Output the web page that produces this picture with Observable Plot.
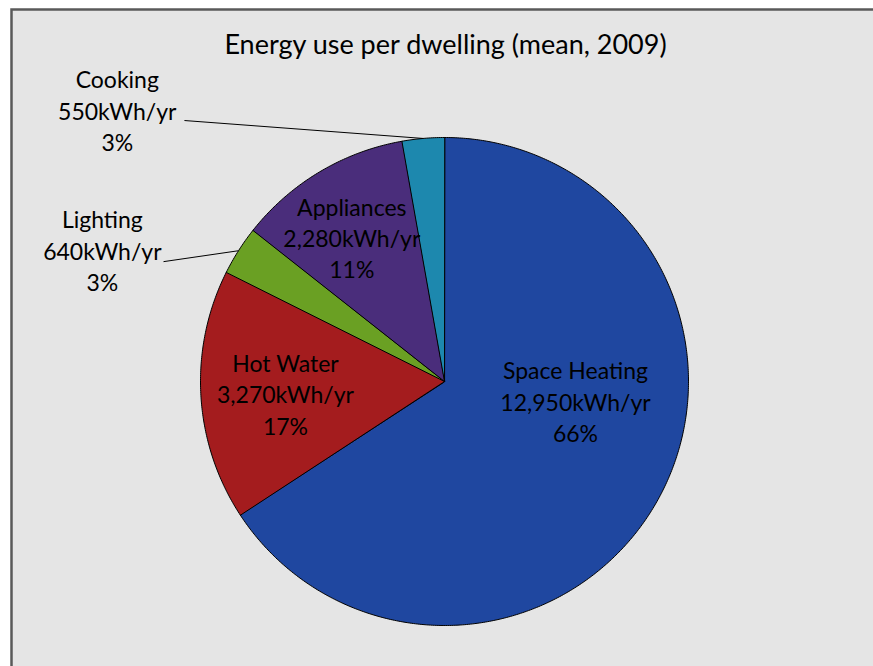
<!DOCTYPE html>
<html>
<head>
<meta charset="utf-8">
<script src="https://cdn.jsdelivr.net/npm/d3@7"></script>
<script src="https://cdn.jsdelivr.net/npm/@observablehq/plot@0.6"></script>
<style>
  body { margin: 0; background: #ffffff; }
  #chart svg { display: block; }
</style>
</head>
<body>
<div id="chart"></div>
<script>
// ---- data ----
const categories = ["Space Heating", "Hot Water", "Lighting", "Appliances", "Cooking"];
const values = [12950, 3270, 640, 2280, 550];
const valueLabels = ["12,950kWh/yr", "3,270kWh/yr", "640kWh/yr", "2,280kWh/yr", "550kWh/yr"];
const percentLabels = ["66%", "17%", "3%", "11%", "3%"];
const colors = ["#1f47a0", "#a41c1e", "#6aa023", "#4a2d7b", "#1d88ae"];
const title = "Energy use per dwelling (mean, 2009)";

// ---- label layout (polar: angle in degrees clockwise from top, radius as fraction of pie radius) ----
const labelAngle = [100, 264.3, 290.5, 326.6, 309.3];
const labelRadius = [0.545, 0.655, 1.497, 0.69, 1.733];
const leaderStart = [null, null, {a: 293.1, r: 1.252}, null, {a: 315.1, r: 1.51}];

// ---- geometry ----
const W = 873, H = 666, cx = 444, cy = 381, R = 244;
const total = d3.sum(values);
let acc = 0;
const slices = categories.map((name, i) => {
  const a0 = acc / total * 2 * Math.PI;
  acc += values[i];
  const a1 = acc / total * 2 * Math.PI;
  return {name, i, a0, a1, mid: (a0 + a1) / 2};
});
const pt = (a, r) => ({x: r * Math.sin(a), y: r * Math.cos(a)});
const polys = [];
for (const s of slices) {
  polys.push({name: s.name, ...pt(0, 0)});
  const n = Math.max(2, Math.ceil((s.a1 - s.a0) / (Math.PI / 360)));
  for (let k = 0; k <= n; k++) {
    const a = s.a0 + (s.a1 - s.a0) * k / n;
    polys.push({name: s.name, ...pt(a, 1)});
  }
}
const deg = Math.PI / 180;
const labels = slices.map((s, i) => ({
  text: `${categories[i]}\n${valueLabels[i]}\n${percentLabels[i]}`,
  ...pt(labelAngle[i] * deg, labelRadius[i])
}));
const leaders = slices.filter((s, i) => leaderStart[i]).map(s => {
  const st = pt(leaderStart[s.i].a * deg, leaderStart[s.i].r);
  const en = pt(s.mid, 1);
  return {x1: st.x, y1: st.y, x2: en.x, y2: en.y};
});

const chart = Plot.plot({
  width: W,
  height: H,
  marginLeft: 11, marginTop: 9, marginRight: 0, marginBottom: 0,
  style: {fontFamily: "Lato, 'Open Sans', sans-serif", background: "#ffffff", color: "#000"},
  x: {domain: [-cx / R, (W - cx) / R], range: [0, W], axis: null},
  y: {domain: [-(H - cy) / R, cy / R], range: [H, 0], axis: null},
  color: {domain: categories, range: colors},
  marks: [
    Plot.frame({fill: "#e5e5e5", stroke: "#595959", strokeWidth: 2.5, insetRight: -6, insetBottom: -6}),
    Plot.line(polys, {x: "x", y: "y", z: "name", fill: "name", stroke: "#000", strokeWidth: 1, curve: "linear-closed"}),
    Plot.link(leaders, {x1: "x1", y1: "y1", x2: "x2", y2: "y2", stroke: "#000", strokeWidth: 1}),
    Plot.text(labels, {x: "x", y: "y", text: "text", fontSize: 23, lineHeight: 1.36, dy: -4, fill: "#000"}),
    Plot.text([title], {frameAnchor: "top", dx: 3, dy: 36, lineAnchor: "middle", fontSize: 27, fill: "#000"})
  ]
});
document.getElementById("chart").append(chart);
</script>
</body>
</html>
